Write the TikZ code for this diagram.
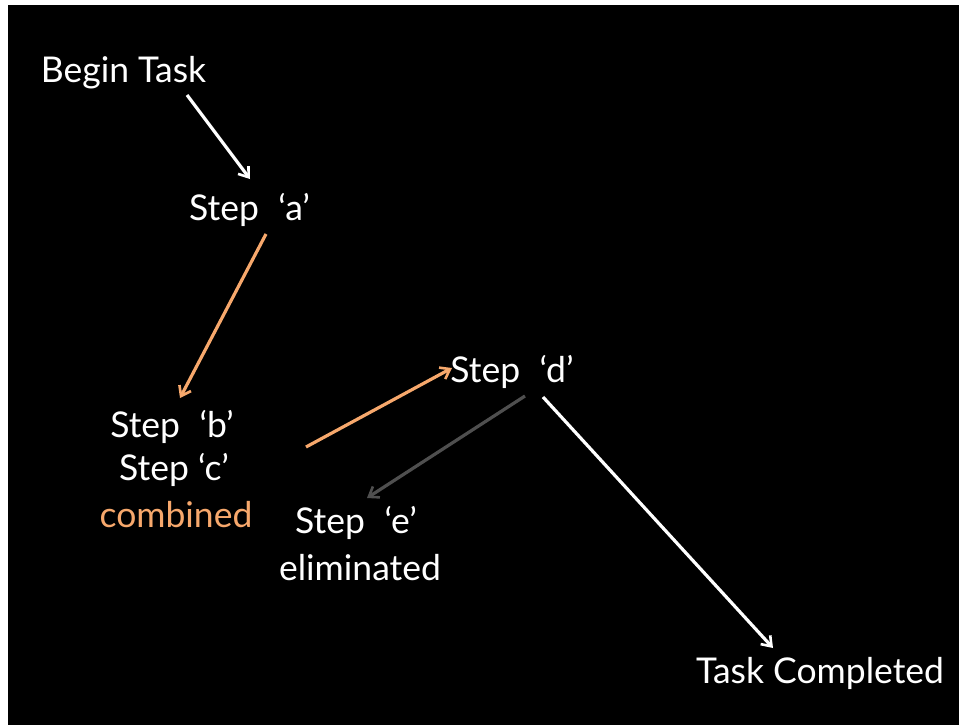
\documentclass[tikz,border=0pt]{standalone}
\usepackage{fontspec}
\setmainfont{Lato}
\usetikzlibrary{arrows.meta}
\definecolor{orng}{HTML}{F7A86C}
\definecolor{darkg}{HTML}{4F4F4F}
\begin{document}
\begin{tikzpicture}[x=1pt,y=-1pt,
  lbl/.style={anchor=base,inner sep=0pt,text=white,font=\fontsize{35.5}{42}\selectfont},
  conn/.style={line width=3.2pt,-{Straight Barb[length=9pt,width=13pt,line width=2.6pt]}}]
\useasboundingbox (0,0) rectangle (962,725);
\fill[white] (0,0) rectangle (962,725);
\fill[black] (8,5) rectangle (959,725);
\node[lbl] (begin) at (123.5,83) {Begin Task};
\node[lbl] (a) at (249.5,220) {Step\hspace{0.55em}‘a’};
\node[lbl] (b) at (172,437) {Step\hspace{0.55em}‘b’};
\node[lbl] (c) at (174,480) {Step ‘c’};
\node[lbl,text=orng] (comb) at (176,527) {combined};
\node[lbl] (d) at (512,382) {Step\hspace{0.55em}‘d’};
\node[lbl] (e) at (356,533) {Step\hspace{0.55em}‘e’};
\node[lbl] (elim) at (360,580) {eliminated};
\node[lbl] (done) at (820,683) {Task Completed};
\draw[conn,white] ([shift={(63.5,12)}]begin.base) -- ([shift={(0.5,-41)}]a.base);
\draw[conn,orng] ([shift={(16.5,14)}]a.base) -- ([shift={(8,-39)}]b.base);
\draw[conn,orng] ([shift={(134,10)}]b.base) -- ([shift={(-60,-14)}]d.base);
\draw[conn,darkg] ([shift={(13,14)}]d.base) -- ([shift={(11,-35)}]e.base);
\draw[conn,white] ([shift={(31,15)}]d.base) -- ([shift={(-47,-35)}]done.base);
\end{tikzpicture}
\end{document}
